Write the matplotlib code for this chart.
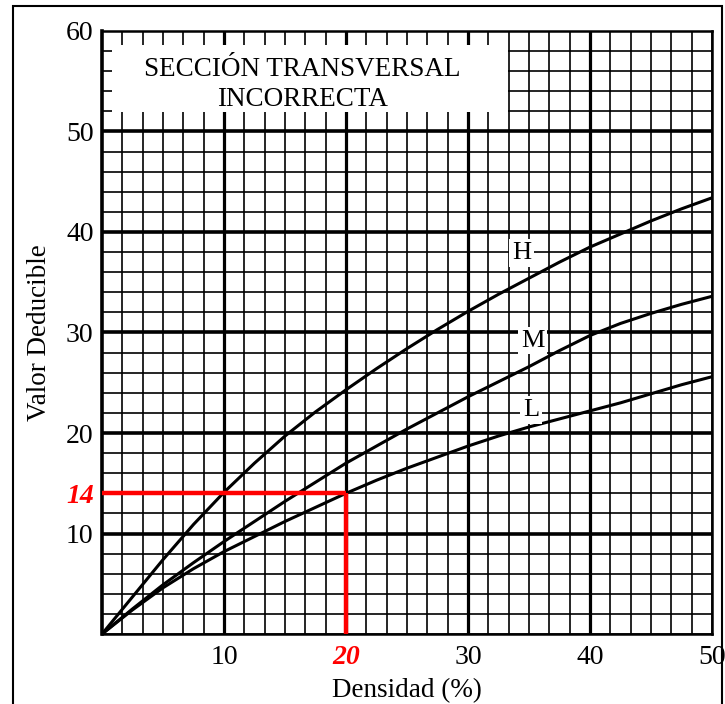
import numpy as np
import matplotlib
matplotlib.use("Agg")
import matplotlib.pyplot as plt
from matplotlib.patches import Rectangle

plt.rcParams['font.family'] = ['Liberation Serif', 'DejaVu Serif']

# values
densidad = [0, 2.5, 5, 7.5, 10, 12.5, 15, 17.5, 20, 22.5, 25, 27.5, 30,
            32.5, 35, 37.5, 40, 42.5, 45, 47.5, 50]
curva_h = [0, 3.7, 7.4, 10.9, 14.1, 17.0, 19.7, 22.1, 24.3, 26.4, 28.4, 30.3,
           32.1, 33.8, 35.4, 37.0, 38.5, 39.8, 41.1, 42.3, 43.4]
curva_m = [0, 2.5, 4.9, 7.1, 9.2, 11.2, 13.2, 15.1, 17.0, 18.7, 20.4, 22.0,
           23.6, 25.1, 26.6, 28.2, 29.7, 30.9, 31.9, 32.8, 33.6]
curva_l = [0, 2.4, 4.6, 6.5, 8.2, 9.7, 11.2, 12.6, 14.0, 15.3, 16.5, 17.6,
           18.7, 19.7, 20.6, 21.4, 22.2, 23.0, 23.9, 24.8, 25.6]

x_ticks = [10, 20, 30, 40, 50]
y_ticks = [10, 14, 20, 30, 40, 50, 60]
lectura_x = 20
lectura_y = 14

fig = plt.figure(figsize=(7.25, 7.04), dpi=100)
ax = fig.add_axes([0.1407, 0.0994, 0.8413, 0.8566])
ax.set_xlim(0, 50)
ax.set_ylim(0, 60)

# paper grid: minor every 10/6 in x, every 2 in y, thick every 10
minor_x = np.linspace(0, 50, 31)
minor_y = np.arange(0, 61, 2)
ax.vlines(minor_x, 0, 60, color='black', lw=1.2, zorder=1)
ax.hlines(minor_y, 0, 50, color='black', lw=1.2, zorder=1)
ax.vlines([10, 20, 30, 40], 0, 60, color='black', lw=2.3, zorder=1)
ax.hlines([10, 20, 30, 40, 50], 0, 50, color='black', lw=2.6, zorder=1)

ax.plot(densidad, curva_h, color='black', lw=2.2, zorder=3)
ax.plot(densidad, curva_m, color='black', lw=2.2, zorder=3)
ax.plot(densidad, curva_l, color='black', lw=2.2, zorder=3)

# red reading lines
ax.plot([0, lectura_x], [lectura_y, lectura_y], color='red', lw=3.2, zorder=4,
        solid_capstyle='butt')
ax.plot([lectura_x, lectura_x], [0, lectura_y], color='red', lw=3.2, zorder=4,
        solid_capstyle='butt')

# title box
ax.add_patch(Rectangle((0.8, 51.9), 32.5, 6.7, facecolor='white',
                       edgecolor='none', zorder=5))
ax.text(16.4, 56.2, 'SECCIÓN TRANSVERSAL', ha='center', va='center',
        fontsize=19.5, zorder=6)
ax.text(16.4, 53.2, 'INCORRECTA', ha='center', va='center',
        fontsize=19.5, zorder=6)

lbl = dict(facecolor='white', edgecolor='none', pad=2)
ax.text(34.4, 37.9, 'H', ha='center', va='center', fontsize=19, bbox=lbl, zorder=6)
ax.text(35.3, 29.2, 'M', ha='center', va='center', fontsize=19, bbox=lbl, zorder=6)
ax.text(35.2, 22.3, 'L', ha='center', va='center', fontsize=19, bbox=lbl, zorder=6)

ax.set_xticks(x_ticks)
ax.set_xticklabels([str(v) for v in x_ticks], fontsize=20)
ax.set_yticks(y_ticks)
ax.set_yticklabels([str(v) for v in y_ticks], fontsize=20)
ax.tick_params(length=0)
ax.tick_params(axis='x', pad=8)
ax.tick_params(axis='y', pad=6)
for t in ax.get_xticklabels():
    if t.get_text() == str(lectura_x):
        t.set_color('red')
        t.set_fontweight('bold')
        t.set_fontstyle('italic')
for t in ax.get_yticklabels():
    if t.get_text() == str(lectura_y):
        t.set_color('red')
        t.set_fontweight('bold')
        t.set_fontstyle('italic')

ax.set_xlabel('Densidad (%)', fontsize=19.5, labelpad=6)
ax.set_ylabel('Valor Deducible', fontsize=19.5, labelpad=10)

for s in ax.spines.values():
    s.set_linewidth(1.8)
ax.spines['left'].set_linewidth(2.6)

# outer frame
fig.add_artist(Rectangle((13 / 725, -0.02), 709 / 725, 1 - 6 / 704 + 0.02,
                         transform=fig.transFigure, fill=False,
                         edgecolor='black', lw=1.5))

fig.savefig('out.png', dpi=100)
